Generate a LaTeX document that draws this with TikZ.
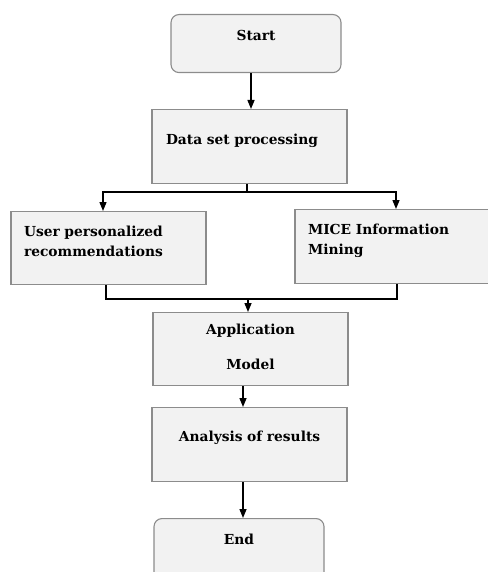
\documentclass[tikz,border=0pt]{standalone}
\usepackage{fontspec}
\setmainfont{DejaVu Serif}
\usetikzlibrary{arrows.meta, positioning}

\definecolor{boxfill}{HTML}{F2F2F2}
\definecolor{boxline}{HTML}{8C8C8C}

\begin{document}
\begin{tikzpicture}[
  x=1pt, y=-1pt,
  box/.style={draw=boxline, fill=boxfill, line width=1.1pt, anchor=north,
              inner xsep=0pt, inner ysep=0pt, align=center,
              font=\bfseries\fontsize{13.8}{20}\selectfont},
  term/.style={box, rounded corners=8pt},
  flow/.style={-{Triangle[width=7pt, length=9pt]}, line width=1.4pt},
  link/.style={line width=1.4pt}
]
\useasboundingbox (0,0) rectangle (487,572);

% main column, placed by the top edge of each box
\node[term, text width=170pt, text height=26pt, text depth=32pt] (start) at (256,14) {Start};
\node[box, text width=167pt, inner xsep=14pt, align=left,
      text height=35pt, text depth=39pt] (data) at (249.5,109) {Data set processing};
\node[box, text width=169pt, inner xsep=13pt, align=left,
      text height=25pt, text depth=48pt] (user) at (108.5,211) {User personalized\\recommendations};
\node[box, text width=169pt, inner xsep=13pt, align=left,
      text height=25pt, text depth=49pt] (mice) at (392.5,209) {MICE Information\\Mining};
\node[box, text width=195pt, text height=22pt, text depth=51pt] (app) at (250.5,312) {Application\\[15pt]Model};
\node[box, text width=195pt, text height=34pt, text depth=40pt] (res) at (249.5,407) {Analysis of results};
\node[term, text width=170pt, text height=26pt, text depth=48pt] (end) at (239,518) {End};

\draw[flow] ([xshift=-5pt]start.south) -- ([xshift=-5pt]start.south |- data.north);

% split into the two branches
\draw[link] ([xshift=-2.5pt]data.south) -- ++(0,8) coordinate (split);
\draw[flow] (split) -| ([xshift=-5.5pt]user.north);
\draw[flow] (split) -| ([xshift=3.5pt]mice.north);

% join the branches again
\draw[link] ([xshift=-2.5pt]user.south) -- ++(0,14) coordinate (join) -| ([xshift=4.5pt]mice.south);
\draw[flow] ([xshift=-2.5pt]app.north |- join) -- ([xshift=-2.5pt]app.north);

\draw[flow] ([xshift=-7.5pt]app.south) -- ([xshift=-7.5pt]app.south |- res.north);
\draw[flow] ([xshift=-6.5pt]res.south) -- ([xshift=-6.5pt]res.south |- end.north);

\end{tikzpicture}
\end{document}
